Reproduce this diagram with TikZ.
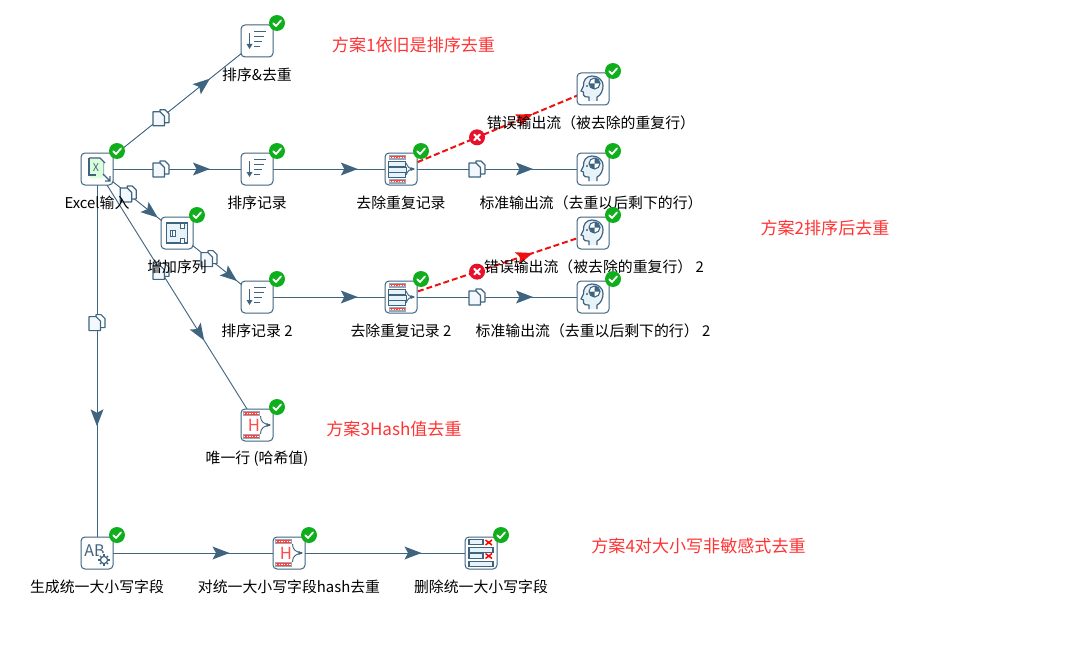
\documentclass[tikz,border=0pt]{standalone}
\usepackage{fontspec}
\setmainfont{Noto Sans CJK SC}
\usetikzlibrary{backgrounds,calc}
\definecolor{hopblue}{HTML}{3F6480}
\definecolor{okgreen}{HTML}{0FAE1B}
\definecolor{errred}{HTML}{E8112D}
\definecolor{notered}{HTML}{FF3333}
\definecolor{dashred}{HTML}{EE1111}
\definecolor{iconpale}{HTML}{E8F2F9}
\tikzset{
  x=0.75pt,y=-0.75pt,
  stepicon/.style={draw=hopblue,line width=0.75pt,fill=white,rounded corners=3pt,minimum size=24pt,inner sep=0pt,outer sep=0pt},
  steplabel/.style={font=\fontsize{11.15}{13}\selectfont,text=black,inner sep=0pt,anchor=center},
  note/.style={font=\fontsize{12.8}{15}\selectfont,text=notered,inner sep=0pt,anchor=center},
  hop/.style={draw=hopblue,line width=0.7pt},
  badge/.style={circle,fill=okgreen,minimum size=12pt,inner sep=0pt},
  errbadge/.style={circle,fill=errred,minimum size=12pt,inner sep=0pt},
  errhop/.style={draw=dashred,line width=1.5pt,dash pattern=on 4.5pt off 2.2pt},
  ic/.style={hopblue,line width=0.7pt},
  pics/copyic/.style={code={
    \path[draw=hopblue,fill=white,line width=0.85pt,line join=round] (-1,-8)--(4,-8)--(8,-4)--(8,5)--(-1,5)--cycle;
    \path[draw=hopblue,fill=iconpale!50!white,line width=0.85pt,line join=round] (-8,-6)--(-1,-6)--(3.5,-1.5)--(3.5,8)--(-8,8)--cycle;
  }},
  pics/okmark/.style={code={
    \draw[white,line width=1.35pt,line cap=round,line join=round] (-3.8,0.2)--(-1,3)--(4,-2.6);
  }},
  pics/errmark/.style={code={
    \draw[white,line width=1.5pt,line cap=round] (-2.8,-2.8)--(2.8,2.8) (-2.8,2.8)--(2.8,-2.8);
  }},
  pics/sorticon/.style={code={
    \draw[ic,line width=0.9pt] (-7.5,-8)--(-7.5,7);
    \fill[hopblue] (-10.5,3)--(-4.5,3)--(-7.5,8)--cycle;
    \draw[ic,line width=1pt] (-3,-9.5)--(9,-9.5) (-3,-4.5)--(7,-4.5) (-3,0.5)--(5,0.5) (-3,5.5)--(3,5.5);
  }},
  pics/excelicon/.style={code={
    \fill[hopblue!55!white] (-8.5,-10)--(3,-10)--(7,-6)--(7,7)--(-8.5,7)--cycle;
    \path[draw=none,fill=green!14!white] (-7,-12)--(2,-12)--(6,-8)--(6,9)--(-1,9)--(-7,9)--cycle;
    \draw[ic,line width=0.9pt] (-8,-11)--(3,-11)--(8,-6);
    \draw[ic,line width=0.9pt] (-8,-11)--(-8,6)--(-1,6);
    \node[font=\fontsize{8}{8}\selectfont,text=hopblue,inner sep=0pt] at (-1,-1) {X};
    \draw[ic,line width=1pt] (6,5)--(13,12) (13,7)--(13,12)--(8,12);
  }},
  pics/seqicon/.style={code={
    \draw[ic,line width=0.9pt,fill=iconpale] (-10.5,-10) rectangle (10.5,10);
    \draw[ic,line width=0.6pt,fill=white] (-7,-3) rectangle (-2,3);
    \draw[ic,line width=0.5pt] (-4.5,-3)--(-4.5,3);
    \draw[ic,line width=0.6pt,fill=white] (3,-10) rectangle (7,-5);
    \draw[ic,line width=0.6pt,fill=white] (3,5) rectangle (7,10);
  }},
  pics/stripebar/.style={code={
    \fill[hopblue!55!white] (-12,-2.5) rectangle (5,2.5);
    \fill[red!75!white] (-11,-1.3) rectangle (4,1.3);
    \draw[white,line width=0.6pt,dash pattern=on 1pt off 1pt] (-11,0)--(4,0);
  }},
  pics/dedupicon/.style={code={
    \pic at (-0.5,-12) {stripebar};
    \pic at (-0.5,12) {stripebar};
    \draw[ic,fill=iconpale,line width=0.75pt] (-13,-7.5) rectangle (4,-2.5);
    \draw[ic,fill=iconpale,line width=0.75pt] (-13,-2) rectangle (5,3);
    \draw[ic,fill=iconpale,line width=0.75pt] (-13,3.5) rectangle (4,8.5);
    \draw[ic,line width=0.7pt] (5,-6)..controls (7,-2) and (8,0) ..(13,0);
    \draw[ic,line width=0.7pt] (5,6)..controls (7,2) and (8,0) ..(13,0);
    \fill[hopblue] (9.5,-2)--(14,0)--(9.5,2)--cycle;
  }},
  pics/hashicon/.style={code={
    \pic at (-2,-11.5) {stripebar};
    \pic at (-2,11.5) {stripebar};
    \draw[ic,line width=0.7pt] (3.5,-9)..controls (3.5,-3) and (7,-1) ..(13,0);
    \draw[ic,line width=0.7pt] (3.5,9)..controls (3.5,3) and (7,1) ..(13,0);
    \fill[hopblue] (9.5,-2)--(14,0)--(9.5,2)--cycle;
    \node[font=\fontsize{12.5}{13}\selectfont,text=red!70!white,inner sep=0pt] at (-3,0) {H};
  }},
  pics/headicon/.style={code={
    \path[draw=hopblue,fill=iconpale,line width=0.9pt,line join=round]
      (4,12)--(4,8)..controls (8,6.5) and (10,1) ..(10,-3)
      ..controls (10,-10) and (4,-13) ..(-1,-13)
      ..controls (-7,-13) and (-10,-8) ..(-9.5,-3)
      --(-12,2)--(-9.5,3)--(-9.5,6)..controls (-9.5,8) and (-7,8) ..(-4,8)--(-4,12);
    \draw[ic,line width=0.8pt,fill=white] (1.5,-5.5) circle[radius=5.5];
    \fill[hopblue] (1.5,-5.5) -- (1.5,-11) -- (4,-10.5) -- (7,-5.5) -- cycle;
    \fill[hopblue] (1.5,-5.5) -- (1.5,0) -- (-1,-0.5) -- (-4,-5.5) -- cycle;
    \fill[hopblue] (-6,-3) circle[radius=1.1];
  }},
  pics/abicon/.style={code={
    \node[font=\fontsize{12}{12}\selectfont,text=hopblue,inner sep=0pt] at (-2.5,-2.5) {AB};
    \fill[white] (7,7) circle[radius=7];
    \draw[ic,line width=0.9pt] (7,7) circle[radius=3.6];
    \foreach \a in {0,45,...,315}{\draw[ic,line width=1pt] (7,7)++(\a:3.6)--++(\a:2.2);}
  }},
  pics/delicon/.style={code={
    \foreach \yy/\xe in {-11/2,-3/12,3/2,11/12}{
      \draw[ic,fill=iconpale,line width=0.8pt] (-12,\yy-2.5) rectangle (\xe,\yy+2.5);}
    \draw[red,line width=1.1pt] (4.5,-13)--(11,-8) (4.5,-8)--(11,-13) (4.5,0.5)--(11,5.5) (4.5,5.5)--(11,0.5);
  }},
}
\newcommand{\stepat}[6]{% name, x, y, icon, label, label x
  \node[stepicon] (#1) at (#2,#3) {};
  \pic at (#2,#3) {#4};
  \node[badge] (#1ok) at ($(#2,#3)+(20,-18)$) {};
  \pic at ($(#2,#3)+(20,-18)$) {okmark};
  \node[steplabel] (#1lbl) at ($(#2,#3)+(#6,34)$) {#5};
}
% from, to, position of the arrow head, colour
\newcommand{\midhead}[4]{%
  \path let \p1=($(#2.center)-(#1.center)$), \n1={atan2(\y1,\x1)} in
    coordinate (tipat) at ($(#1.center)!#3!(#2.center)$)
    [fill=#4,shift={(tipat)},rotate=\n1,draw=none] (0,0)--(-17,-6.5)--(-13.5,0)--(-17,6.5)--cycle;
}
\newcommand{\hopline}[3]{%
  \path[hop] (#1.center) -- (#2.center);
  \midhead{#1}{#2}{#3}{hopblue}
}
% from, to, position of the arrow head, position of the copy icon
\newcommand{\copyhop}[4]{%
  \hopline{#1}{#2}{#3}
  \pic at ($(#1.center)!#4!(#2.center)$) {copyic};
}
\newcommand{\errline}[3]{% from, to, arrow pos
  \path[errhop] (#1.center) -- (#2.center);
  \midhead{#1}{#2}{#3}{dashred}
}
\begin{document}
\begin{tikzpicture}
\useasboundingbox (0,0) rectangle (1075,667);

\stepat{excel}{97}{169}{excelicon}{Excel输入}{0}
\stepat{sortd}{257}{41}{sorticon}{排序\&去重}{0}
\stepat{sorta}{257}{169}{sorticon}{排序记录}{0}
\stepat{dedupa}{401}{169}{dedupicon}{去除重复记录}{0}
\stepat{erra}{593}{89}{headicon}{错误输出流（被去除的重复行）}{-2}
\stepat{stda}{593}{169}{headicon}{标准输出流（去重以后剩下的行）}{-2}
\stepat{seq}{177}{233}{seqicon}{增加序列}{0}
\stepat{sortb}{257}{297}{sorticon}{排序记录 2}{0}
\stepat{dedupb}{401}{297}{dedupicon}{去除重复记录 2}{0}
\stepat{errb}{593}{233}{headicon}{错误输出流（被去除的重复行） 2}{1}
\stepat{stdb}{593}{297}{headicon}{标准输出流（去重以后剩下的行） 2}{0}
\stepat{hash}{257}{425}{hashicon}{唯一行 (哈希值)}{0}
\stepat{ab}{97}{553}{abicon}{生成统一大小写字段}{0}
\stepat{hashb}{289}{553}{hashicon}{对统一大小写字段hash去重}{0}
\stepat{del}{481}{553}{delicon}{删除统一大小写字段}{0}

\node[note] (n1) at (413.5,45) {方案1依旧是排序去重};
\node[note] (n2) at (825,228) {方案2排序后去重};
\node[note] (n3) at (394,429) {方案3Hash值去重};
\node[note] (n4) at (698.5,546) {方案4对大小写非敏感式去重};

\begin{scope}[on background layer]
  \copyhop{excel}{sortd}{0.706}{0.4}
  \copyhop{excel}{sorta}{0.706}{0.4}
  \hopline{sorta}{dedupa}{0.70}
  \copyhop{dedupa}{stda}{0.6875}{0.396}
  \copyhop{excel}{seq}{0.76}{0.39}
  \copyhop{seq}{sortb}{0.75}{0.4}
  \hopline{sortb}{dedupb}{0.70}
  \copyhop{dedupb}{stdb}{0.6875}{0.396}
  \copyhop{excel}{hash}{0.67}{0.4}
  \copyhop{excel}{ab}{0.67}{0.4}
  \hopline{ab}{hashb}{0.69}
  \hopline{hashb}{del}{0.69}
  \errline{dedupa}{erra}{0.6875}
  \errline{dedupb}{errb}{0.6875}
  \node[errbadge] (xa) at ($(dedupa.center)!0.396!(erra.center)$) {};
  \pic at ($(dedupa.center)!0.396!(erra.center)$) {errmark};
  \node[errbadge] (xb) at ($(dedupb.center)!0.396!(errb.center)$) {};
  \pic at ($(dedupb.center)!0.396!(errb.center)$) {errmark};
\end{scope}
\end{tikzpicture}
\end{document}
